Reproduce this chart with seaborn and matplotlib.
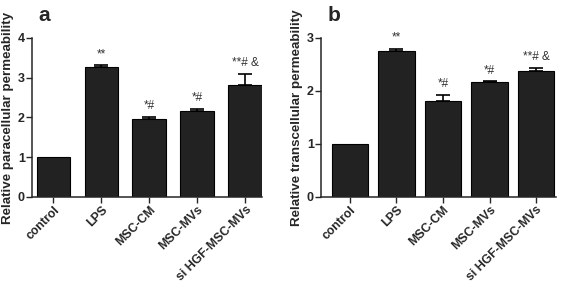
import numpy as np
import pandas as pd
import matplotlib
matplotlib.use('Agg')
import matplotlib.pyplot as plt
import seaborn as sns

sns.set_style('ticks')
plt.rcParams['font.family'] = ['Liberation Sans', 'DejaVu Sans']

groups = ['control', 'LPS', 'MSC-CM', 'MSC-MVs', 'si HGF-MSC-MVs']
para_mean = [1.0, 3.27, 1.97, 2.17, 2.82]
para_err = [0.0, 0.05, 0.05, 0.04, 0.28]
trans_mean = [1.0, 2.76, 1.81, 2.17, 2.37]
trans_err = [0.0, 0.04, 0.11, 0.01, 0.07]
marks = ['', '**', '*#', '*#', '**# &']


def draw_panel(ax, means, errs, ylabel, ymax, letter, xlim, width):
    df = pd.DataFrame({'group': groups, 'value': means})
    sns.barplot(data=df, x='group', y='value', color='#222222',
                edgecolor='black', linewidth=0.8, width=width,
                saturation=1, errorbar=None, ax=ax)
    pos = np.arange(len(groups))
    # control has no error bar
    ax.errorbar(pos[1:], means[1:], yerr=[np.zeros(len(errs) - 1), errs[1:]],
                fmt='none', ecolor='black', elinewidth=1.2, capsize=5,
                capthick=1.2)
    for x, m, e, t in zip(pos, means, errs, marks):
        if t:
            ax.text(x, m + e + ymax * 0.03, t, ha='center', va='bottom',
                    fontsize=8.5, color='#333333')
    ax.set_ylim(0, ymax)
    ax.set_yticks(range(0, ymax + 1))
    ax.set_xlim(*xlim)
    ax.set_xlabel('')
    ax.set_ylabel(ylabel, fontsize=9.6, fontweight='bold', labelpad=3)
    ax.set_xticks(pos)
    ax.set_xticklabels(groups, rotation=45, ha='right',
                       rotation_mode='anchor', fontsize=8.8, fontweight='bold')
    for lab in ax.get_yticklabels():
        lab.set_fontweight('bold')
        lab.set_fontsize(9)
    ax.tick_params(axis='both', direction='out', length=4, width=1, pad=1)
    sns.despine(ax=ax)
    for s in ['left', 'bottom']:
        ax.spines[s].set_linewidth(1.1)
    ax.text(0.03, 1.08, letter, transform=ax.transAxes, fontsize=15,
            fontweight='bold', ha='left', va='bottom')


fig = plt.figure(figsize=(5.67, 2.83), dpi=100)
ax1 = fig.add_axes([0.056, 0.304, 0.406, 0.562])
ax2 = fig.add_axes([0.566, 0.304, 0.414, 0.562])

draw_panel(ax1, para_mean, para_err, 'Relative paracellular permeability',
           4, 'a', (-0.45, 4.35), 0.7)
draw_panel(ax2, trans_mean, trans_err, 'Relative transcellular permeability',
           3, 'b', (-0.62, 4.42), 0.78)

fig.savefig('out.png', dpi=100)
